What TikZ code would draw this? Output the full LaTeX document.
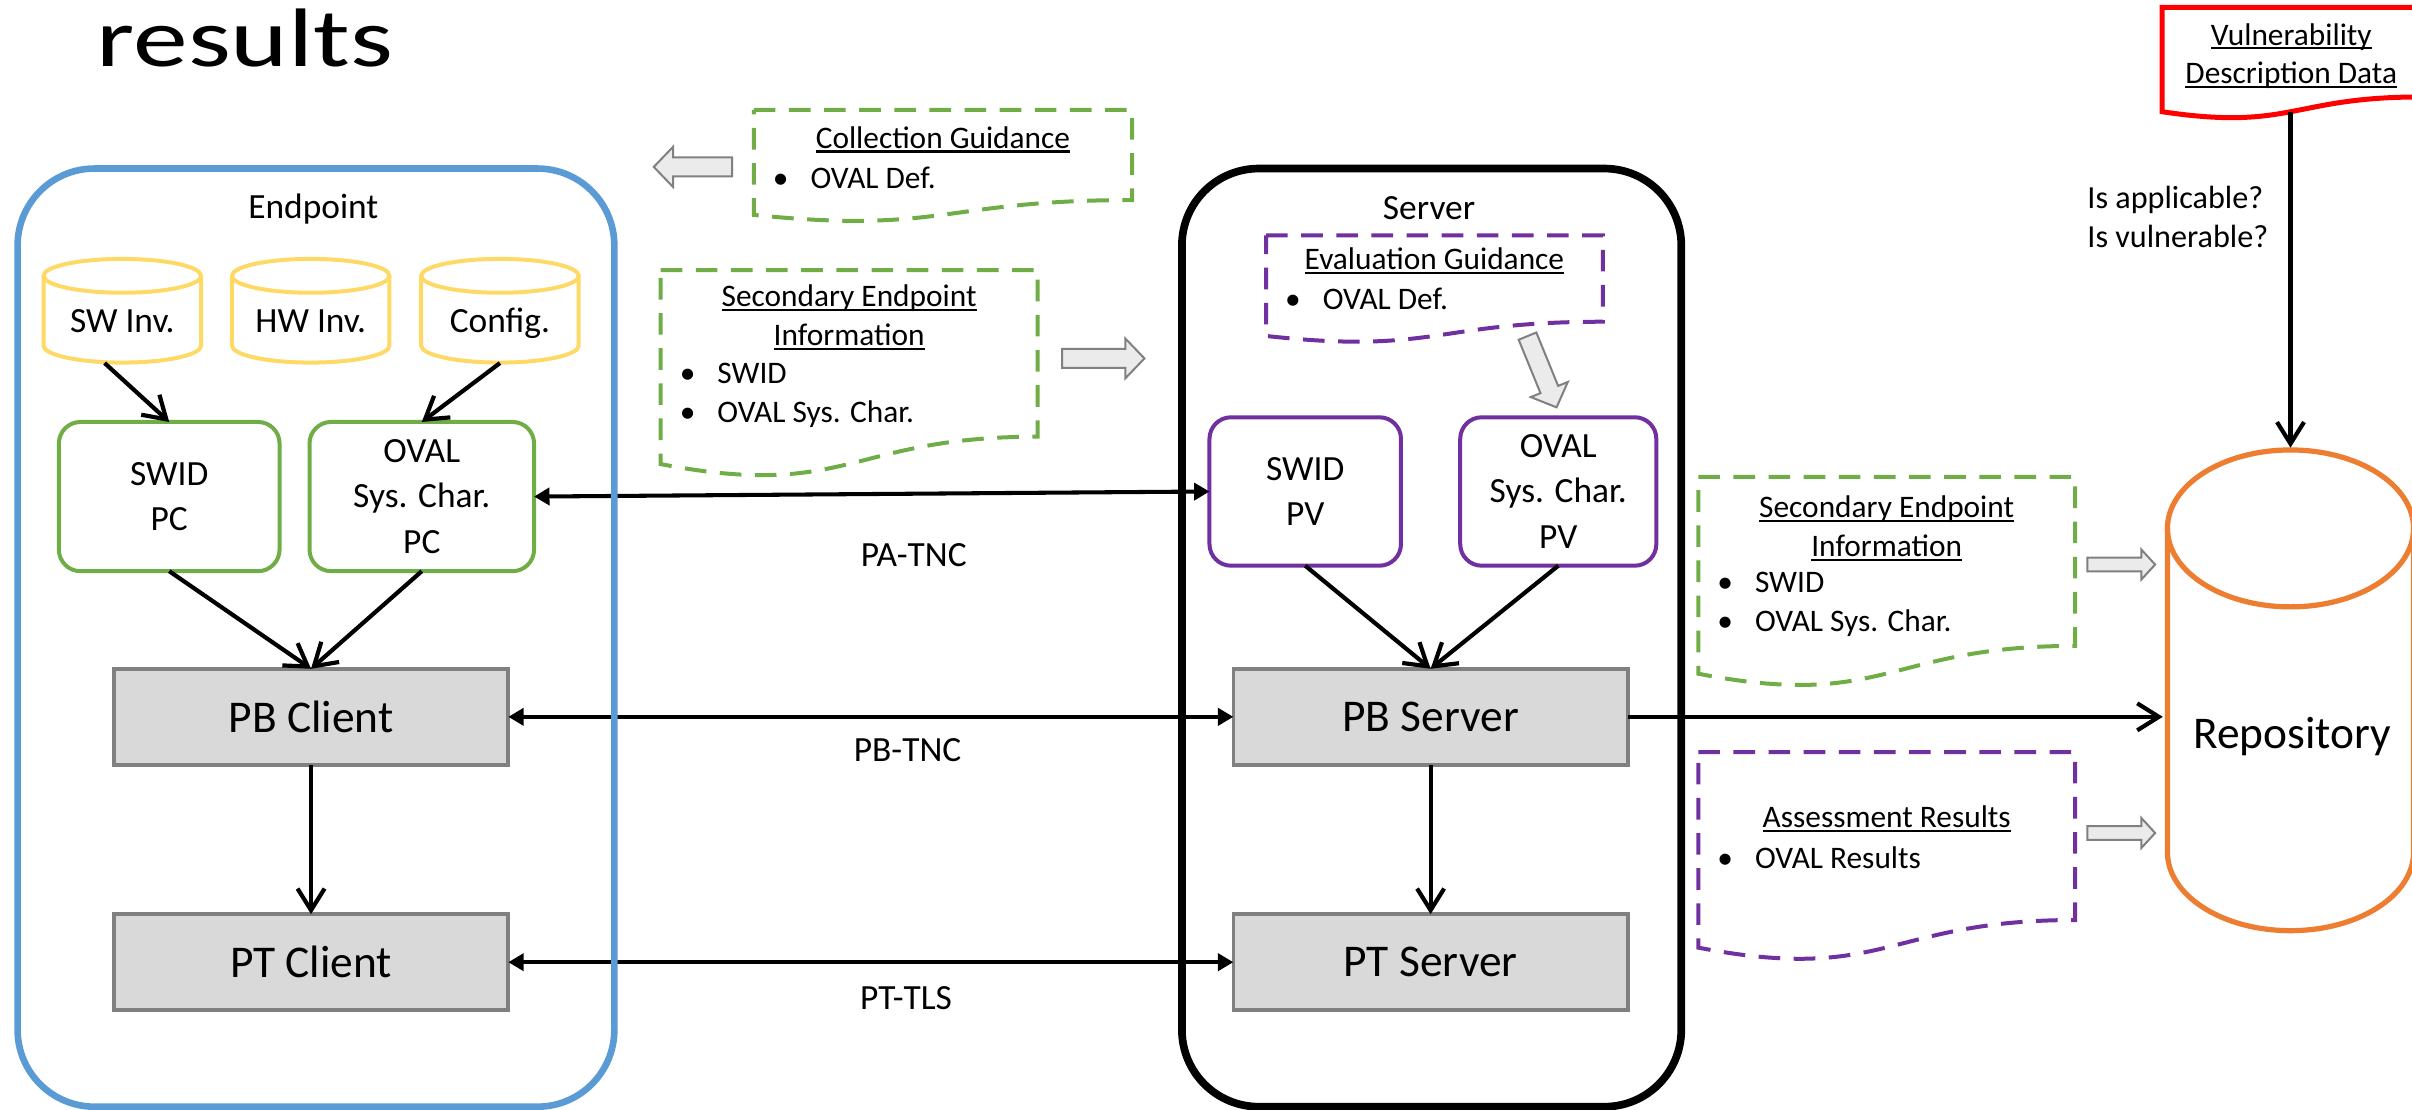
\documentclass[tikz,border=0pt]{standalone}
\usepackage{fontspec}
\setmainfont{Carlito}
\usetikzlibrary{arrows.meta}

\definecolor{epblue}{HTML}{5B9BD5}
\definecolor{dbyellow}{HTML}{FFD966}
\definecolor{pcgreen}{HTML}{70AD47}
\definecolor{pvpurple}{HTML}{7030A0}
\definecolor{repoorange}{HTML}{ED7D31}
\definecolor{boxgray}{HTML}{D9D9D9}
\definecolor{edgegray}{HTML}{808080}
\definecolor{arrowfill}{HTML}{EBEBEB}

% font sizes
\newcommand\fnode{\fontsize{13.1}{16.8}\selectfont}
\newcommand\fbig{\fontsize{16.8}{20}\selectfont}
\newcommand\fdoc{\fontsize{11.6}{14.4}\selectfont}
\newcommand\fques{\fontsize{11.9}{14.2}\selectfont}
\newcommand\ftitle{\fontsize{30.7}{36}\selectfont}

% underlined heading and bullet item
\newcommand\undl[1]{\setbox0\hbox{#1}\rlap{\rule[-0.14em]{\wd0}{0.075em}}\box0}
\newcommand\bitem[1]{\makebox[13.9pt][l]{\textbullet}#1}

% document shape: left, top, width, height
\newcommand\docpath[4]{(#1,#2) -- ({#1+#3},#2) -- ({#1+#3},{#2+0.802*#4}) .. controls ({#1+0.5*#3},{#2+0.802*#4}) and ({#1+0.5*#3},{#2+1.1075*#4}) .. (#1,{#2+0.934*#4}) -- cycle}

% block arrow: tail x, tail y, angle, length, shaft, head width, head length
\newcommand\blockarrow[7]{\draw[blockarr, shift={(#1,#2)}, rotate=#3] (0,{-#5/2}) -- ({#4-#7},{-#5/2}) -- ({#4-#7},{-#6/2}) -- (#4,0) -- ({#4-#7},{#6/2}) -- ({#4-#7},{#5/2}) -- (0,{#5/2}) -- cycle;}

% upright cylinder: style, centre x, top, bottom, x radius, y radius
\newcommand\cyl[6]{%
  \draw[#1] ({#2-#5},{#3+#6}) -- ({#2-#5},{#4-#6}) arc[start angle=180, end angle=0, x radius=#5, y radius=#6] -- ({#2+#5},{#3+#6});
  \draw[#1] (#2,{#3+#6}) ellipse [x radius=#5, y radius=#6];}

\tikzset{
  every node/.style={inner sep=0pt, outer sep=0pt},
  pcbox/.style={draw=pcgreen, line width=1.48pt, rounded corners=0.28cm, minimum height=1.94cm, align=center, font=\fnode},
  pvbox/.style={pcbox, draw=pvpurple},
  pbox/.style={draw=edgegray, fill=boxgray, line width=1.37pt, minimum width=5.13cm, minimum height=1.25cm, font=\fbig},
  conn/.style={line width=1.55pt, -{Straight Barb[length=8pt,width=10pt]}},
  proto/.style={line width=1.5pt, {Triangle[length=5.7pt,width=6.3pt]}-{Triangle[length=5.7pt,width=6.3pt]}},
  docgreen/.style={draw=pcgreen, line width=1.48pt, dash pattern=on 8pt off 5pt},
  docpurple/.style={docgreen, draw=pvpurple},
  docred/.style={draw=red, line width=1.85pt},
  blockarr/.style={draw=edgegray, fill=arrowfill, line width=0.74pt},
  dbcyl/.style={draw=dbyellow, line width=1.48pt},
  repocyl/.style={draw=repoorange, line width=1.93pt},
  doctext/.style={font=\fdoc},
  lbl/.style={font=\fnode},
}

\begin{document}
\begin{tikzpicture}[x=0.02cm, y=-0.02cm]
\useasboundingbox (0,0) rectangle (1568,721);

% title
\node[anchor=base west, font=\ftitle] (title) at (62.9,43.4) {\scalebox{1.32}[1]{results}};

% endpoint data stores
\cyl{dbcyl}{79.5}{168.3}{235.7}{51.2}{11}
\cyl{dbcyl}{202}{168.3}{235.7}{51.2}{11}
\cyl{dbcyl}{325}{168.3}{235.7}{51.2}{11}
\node[lbl, anchor=base] (swinv) at (79.5,216.4) {SW Inv.};
\node[lbl, anchor=base] (hwinv) at (202,216.4) {HW Inv.};
\node[lbl, anchor=base] (config) at (325,216.4) {Config.};
\coordinate (swfoot) at (68,236);
\coordinate (cfgfoot) at (325,236);

% collectors and verifiers
\node[pcbox, minimum width=2.87cm] (swidpc) at (110,322.8) {SWID\\PC};
\node[pcbox, minimum width=2.92cm] (ovalpc) at (274.2,322.8) {OVAL\\Sys. Char.\\PC};
\node[pvbox, minimum width=2.49cm, minimum height=1.93cm] (swidpv) at (848.5,319.5) {SWID\\PV};
\node[pvbox, minimum width=2.55cm, minimum height=1.93cm] (ovalpv) at (1013,319.5) {OVAL\\Sys. Char.\\PV};

% broker and transport layers
\node[pbox] (pbclient) at (202.2,466) {PB Client};
\node[pbox] (ptclient) at (202.2,625.5) {PT Client};
\node[pbox] (pbserver) at (930,466) {PB Server};
\node[pbox] (ptserver) at (930,625.5) {PT Server};

% protocol links
\draw[proto] (ovalpc.east) -- (swidpv.west);
\draw[proto] (pbclient.east) -- (pbserver.west);
\draw[proto] (ptclient.east) -- (ptserver.west);
\node[lbl] (patnc) at (594,361) {PA-TNC};
\node[lbl] (pbtnc) at (590,487.6) {PB-TNC};
\node[lbl] (pttls) at (589,649) {PT-TLS};

% internal flows
\draw[conn] (swfoot) -- (swidpc.north);
\draw[conn] (cfgfoot) -- (ovalpc.north);
\draw[conn] (swidpc.south) -- (pbclient.north);
\draw[conn] (ovalpc.south) -- (pbclient.north);
\draw[conn] (pbclient.south) -- (ptclient.north);
\draw[conn] (swidpv.south) -- (pbserver.north);
\draw[conn] (ovalpv.south) -- (pbserver.north);
\draw[conn] (pbserver.south) -- (ptserver.north);

% containers
\node[draw=epblue, line width=2.45pt, rounded corners=1cm, minimum width=7.76cm, minimum height=12.2cm] (endpoint) at (205.4,414.5) {};
\node[draw=black, line width=2.85pt, rounded corners=1cm, minimum width=6.494cm, minimum height=12.2cm] (server) at (930.65,414.5) {};
\node[lbl, anchor=base] (eplabel) at (203.7,141.9) {Endpoint};
\node[lbl, anchor=base] (svlabel) at (929,142.4) {Server};

% guidance and information documents
\draw[docgreen] \docpath{490}{71.5}{246}{73};
\node[doctext, anchor=base] (cgtitle) at (613,96.5) {\undl{Collection Guidance}};
\node[doctext, anchor=base west] (cgitems) at (502.5,122.5) {\bitem{OVAL Def.}};
\blockarrow{476}{108.5}{180}{51}{12.4}{26}{12.5}

\draw[docgreen] \docpath{429.5}{175.6}{245}{135};
\node[doctext, anchor=base] (seititle) at (552,199.5) {\begin{tabular}[t]{@{}c@{}}\undl{Secondary Endpoint}\\\undl{Information}\end{tabular}};
\node[doctext, anchor=base west] (seiitems) at (442,249.5) {\begin{tabular}[t]{@{}l@{}}\bitem{SWID}\\\bitem{OVAL Sys. Char.}\end{tabular}};
\blockarrow{690.5}{233}{0}{53.5}{12.4}{26}{12.5}

\draw[docpurple] \docpath{823}{153}{219}{70};
\node[doctext, anchor=base] (egtitle) at (932.5,175.5) {\undl{Evaluation Guidance}};
\node[doctext, anchor=base west] (egitems) at (835.5,201.5) {\bitem{OVAL Def.}};
\blockarrow{993}{218.5}{-67.8}{50}{12.4}{26}{12.5}

\draw[docgreen] \docpath{1104}{310}{245}{137};
\node[doctext, anchor=base] (seirtitle) at (1226.5,336.5) {\begin{tabular}[t]{@{}c@{}}\undl{Secondary Endpoint}\\\undl{Information}\end{tabular}};
\node[doctext, anchor=base west] (seiritems) at (1116.5,385) {\begin{tabular}[t]{@{}l@{}}\bitem{SWID}\\\bitem{OVAL Sys. Char.}\end{tabular}};
\blockarrow{1357}{367}{0}{44}{9}{19.6}{9}

\draw[docpurple] \docpath{1104}{489}{245}{136};
\node[doctext, anchor=base] (artitle) at (1226.5,538) {\undl{Assessment Results}};
\node[doctext, anchor=base west] (aritems) at (1116.5,564.5) {\bitem{OVAL Results}};
\blockarrow{1357}{541.5}{0}{44}{9}{19.6}{9}

% repository and vulnerability data
\cyl{repocyl}{1489}{292.5}{605}{80}{51}
\node[font=\fbig, anchor=base] (repo) at (1490,486.5) {Repository};
\coordinate (repotop) at (1489,291);
\coordinate (repoin) at (1406,466);

\draw[docred] \docpath{1405.5}{4.8}{168}{72.6};
\node[doctext, anchor=base] (vdd) at (1489.5,29.3) {\begin{tabular}[t]{@{}c@{}}\undl{Vulnerability}\\\undl{Description Data}\end{tabular}};
\coordinate (vddfoot) at (1489,72.6);

\draw[conn] (vddfoot) -- (repotop);
\draw[conn] (pbserver.east) -- (repoin);
\node[font=\fques, anchor=base west] (checks) at (1357,135.7) {\begin{tabular}[t]{@{}l@{}}Is applicable?\\Is vulnerable?\end{tabular}};
\end{tikzpicture}
\end{document}
